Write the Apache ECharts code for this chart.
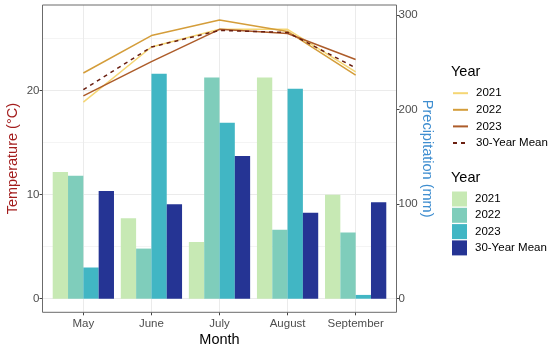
<!DOCTYPE html>
<html>
<head>
<meta charset="utf-8">
<script src="https://cdn.jsdelivr.net/npm/echarts@6/dist/echarts.min.js"></script>
<style>html,body{margin:0;padding:0;background:#fff}#c{width:550px;height:346px}</style>
</head>
<body>
<div id="c"></div>
<script>
const months = ['May', 'June', 'July', 'August', 'September'];
const yearLabels = ['2021', '2022', '2023', '30-Year Mean'];
const temp2021 = [18.9, 24.2, 25.9, 25.9, 21.8];
const temp2022 = [21.7, 25.3, 26.8, 25.7, 21.5];
const temp2023 = [19.5, 22.8, 25.9, 25.5, 23.0];
const tempMean = [20.1, 24.2, 25.8, 25.6, 22.2];
const precip2021 = [134, 85, 60, 234, 110];
const precip2022 = [130, 53, 234, 73, 70];
const precip2023 = [33, 238, 186, 222, 4];
const precipMean = [114, 100, 151, 91, 102];
const tempTicks = [0, 10, 20];
const tempMinorTicks = [0, 5, 10, 15, 20, 25];
const precipTicks = [0, 100, 200, 300];
const precipPerDegree = 11;

const lineColors = ['#f5d674', '#d49d3a', '#ad5c2a', '#6a1f10'];
const barColors = ['#c7e9b4', '#7fcdbb', '#41b6c4', '#253494'];

// layout (pixels)
const FONT = 'Liberation Sans, Arial, sans-serif';
const panelL = 42.5, panelR = 396.5, panelT = 5, panelB = 312.3;
const zeroY = 298.7, pxPerC = 10.4;
const unit = (panelR - panelL) / 5.2;
const tLo = -(panelB - zeroY) / pxPerC, tHi = (zeroY - panelT) / pxPerC;
const H = 346;
function gridFor(maxVal, pxPer) {
  return { left: panelL, width: panelR - panelL, top: zeroY - maxVal * pxPer, bottom: H - zeroY, outerBoundsMode: 'none', containLabel: false };
}
const tempSeries = [temp2021, temp2022, temp2023, tempMean];
const precipSeries = [precip2021, precip2022, precip2023, precipMean];

const chart = echarts.init(document.getElementById('c'), null, { renderer: 'canvas' });
const series = [];
yearLabels.forEach((y, i) => {
  series.push({
    name: 'P:' + y, type: 'bar', xAxisIndex: 1, yAxisIndex: 2,
    data: precipSeries[i], barWidth: unit * 0.225, barGap: '0%',
    itemStyle: { color: barColors[i] }, z: 2
  });
});
yearLabels.forEach((y, i) => {
  series.push({
    name: 'T:' + y, type: 'line', xAxisIndex: 1, yAxisIndex: 1,
    data: tempSeries[i], symbol: 'none', showSymbol: false, clip: false,
    lineStyle: { color: lineColors[i], width: 1.5, type: i === 3 ? [4, 4] : 'solid' },
    itemStyle: { color: lineColors[i] }, z: 5
  });
});
const hiddenX = i => ({ type: 'value', gridIndex: i, show: false, min: 0, max: 1, axisLine: { onZero: false } });
const minorMax = tempMinorTicks[tempMinorTicks.length - 1];
const majorMax = tempTicks[tempTicks.length - 1];
const pMax = precipTicks[precipTicks.length - 1];
const labelStyle = { fontFamily: FONT, fontSize: 11.5, color: '#4d4d4d' };
const noAxisParts = { axisLine: { show: false, onZero: false }, axisTick: { show: false }, axisLabel: { show: false }, splitLine: { show: false } };
const option = {
  backgroundColor: '#fff',
  animation: false,
  title: [
    { text: 'Year', left: 451, top: 64, padding: 0, textStyle: { fontFamily: FONT, fontSize: 14.5, fontWeight: 'normal', color: '#000' } },
    { text: 'Year', left: 451, top: 170, padding: 0, textStyle: { fontFamily: FONT, fontSize: 14.5, fontWeight: 'normal', color: '#000' } }
  ],
  grid: [
    { left: panelL, width: panelR - panelL, top: panelT, bottom: H - panelB, show: true, borderColor: '#6b6b6b', borderWidth: 1, backgroundColor: 'transparent', z: 10, outerBoundsMode: 'none', containLabel: false },
    { left: panelL + 0.1 * unit, width: 5 * unit, top: panelT, bottom: H - panelB, outerBoundsMode: 'none', containLabel: false },
    gridFor(minorMax, pxPerC),
    gridFor(majorMax, pxPerC),
    gridFor(pMax, pxPerC / precipPerDegree)
  ],
  xAxis: [
    hiddenX(0),
    {
      type: 'category', gridIndex: 1, data: months, boundaryGap: true,
      axisLine: { show: false, onZero: false },
      axisTick: { show: true, alignWithLabel: true, length: 3, lineStyle: { color: '#444' } },
      axisLabel: Object.assign({ margin: 6, interval: 0 }, labelStyle),
      splitLine: { show: true, alignWithLabel: true, lineStyle: { color: '#ebebeb', width: 1 } },
      name: 'Month', nameLocation: 'middle', nameGap: 20, nameMoveOverlap: false,
      nameTextStyle: { fontFamily: FONT, fontSize: 14.5, color: '#000' }
    },
    hiddenX(2), hiddenX(3), hiddenX(4)
  ],
  yAxis: [
    { type: 'value', gridIndex: 0, show: false, min: 0, max: 1, axisLine: { onZero: false } },
    Object.assign({
      type: 'value', gridIndex: 1, min: tLo, max: tHi, position: 'left',
      name: 'Temperature (°C)', nameLocation: 'middle', nameGap: 29, nameRotate: 90, nameMoveOverlap: false,
      nameTextStyle: { fontFamily: FONT, fontSize: 14.5, color: '#a31d1d' }
    }, noAxisParts),
    Object.assign({
      type: 'value', gridIndex: 1, min: tLo * precipPerDegree, max: tHi * precipPerDegree, position: 'right',
      name: 'Precipitation (mm)', nameLocation: 'middle', nameGap: 30, nameRotate: -90, nameMoveOverlap: false,
      nameTextStyle: { fontFamily: FONT, fontSize: 14.5, color: '#3f8ed0' }
    }, noAxisParts),
    {
      type: 'value', gridIndex: 2, min: tempMinorTicks[0], max: minorMax, interval: tempMinorTicks[1] - tempMinorTicks[0],
      axisLine: { show: false, onZero: false }, axisTick: { show: false }, axisLabel: { show: false },
      splitLine: { show: true, lineStyle: { color: ['#ebebeb', '#f4f4f4'], width: 1 } }
    },
    {
      type: 'value', gridIndex: 3, min: tempTicks[0], max: majorMax, interval: tempTicks[1] - tempTicks[0], position: 'left',
      axisLine: { show: false, onZero: false }, axisTick: { show: true, length: 3, lineStyle: { color: '#444' } },
      axisLabel: Object.assign({ margin: 3 }, labelStyle), splitLine: { show: false }
    },
    {
      type: 'value', gridIndex: 4, min: precipTicks[0], max: pMax, interval: precipTicks[1] - precipTicks[0], position: 'right',
      axisLine: { show: false, onZero: false }, axisTick: { show: true, length: 3, lineStyle: { color: '#444' } },
      axisLabel: Object.assign({ margin: 2 }, labelStyle), splitLine: { show: false }
    }
  ],
  legend: [
    {
      data: yearLabels.map(y => 'T:' + y), orient: 'vertical', left: 452, top: 87.2, padding: 0,
      itemWidth: 15, itemHeight: 15, itemGap: 4.6, selectedMode: false,
      itemStyle: { opacity: 0 },
      formatter: n => n.slice(2),
      textStyle: { fontFamily: FONT, fontSize: 11.5, color: '#000', padding: [0, 0, 0, 3] }
    },
    {
      data: yearLabels.map(y => 'P:' + y), orient: 'vertical', left: 452, top: 191.5, padding: 0,
      itemWidth: 15, itemHeight: 15, itemGap: 1.3, selectedMode: false, icon: 'rect',
      formatter: n => n.slice(2),
      textStyle: { fontFamily: FONT, fontSize: 11.5, color: '#000', padding: [0, 0, 0, 3] }
    }
  ],
  series: series
};
chart.setOption(option);
</script>
</body>
</html>
